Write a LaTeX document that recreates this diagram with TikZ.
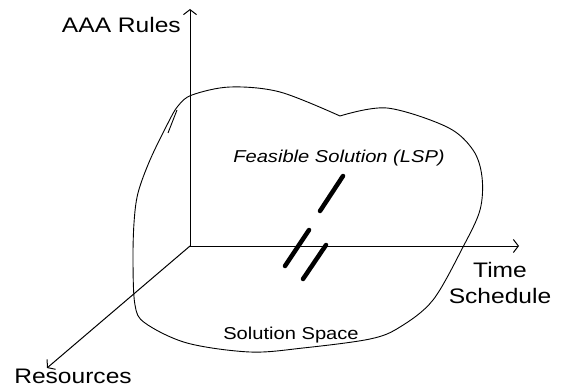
\documentclass[tikz,border=0pt]{standalone}
\usepackage{fontspec}
\setmainfont{Liberation Sans}
\newfontfamily\labfont[FakeStretch=1.17]{Liberation Sans}
\usetikzlibrary{arrows.meta}
\begin{document}
\begin{tikzpicture}[x=1pt,y=-1pt,
  axis/.style={line width=1pt,-{Straight Barb[length=5pt,width=13pt,line width=1pt]}},
  biglabel/.style={font=\labfont\fontsize{21}{24}\selectfont,inner sep=0pt,anchor=base},
  smalllabel/.style={font=\labfont\fontsize{17.2}{20}\selectfont,inner sep=0pt,anchor=base},
  cloud/.style={line width=0.9pt},
  lspbar/.style={line width=4.5pt,line cap=round}]
  \useasboundingbox (0,0) rectangle (561,387);

  % axes
  \coordinate (o) at (190,246);
  \coordinate (zend) at (190,9);
  \coordinate (xend) at (519,246);
  \coordinate (yend) at (47,368);
  \draw[axis] (o) -- (zend);
  \draw[axis] (o) -- (xend);
  \draw[axis] (o) -- (yend);

  % solution space outline
  \draw[cloud] plot[smooth,tension=0.55] coordinates {
    (340,116) (387,108) (447,127) (473,150) (482,177) (480,210)
    (463,247) (433,300) (400,327) (370,339) (303,348) (250,352)
    (187,343) (145,323) (135,305) (133,263) (134,223) (138,193)
    (150,160) (168,123) (178,106) (192,95) (230,87) (280,92) (340,116)};
  \draw[cloud] (177,110) -- (168,133);

  % feasible solution marks
  \coordinate (a1) at (343,176); \coordinate (a2) at (320,211);
  \coordinate (b1) at (309,230); \coordinate (b2) at (285,266);
  \coordinate (c1) at (326,245); \coordinate (c2) at (303,279);
  \draw[lspbar] (a1) -- (a2);
  \draw[lspbar] (b1) -- (b2);
  \draw[lspbar] (c1) -- (c2);

  % labels
  \node[biglabel,anchor=base east] (rules) at (181,33) {AAA Rules};
  \node[biglabel] (time) at (500,277) {Time};
  \node[biglabel] (sched) at (500,303) {Schedule};
  \node[biglabel] (res) at (73,383.5) {Resources};
  \node[smalllabel,font=\labfont\itshape\fontsize{17.2}{20}\selectfont] (lsp) at (339,163) {Feasible Solution (LSP)};
  \node[smalllabel] (space) at (291,339) {Solution Space};
\end{tikzpicture}
\end{document}
